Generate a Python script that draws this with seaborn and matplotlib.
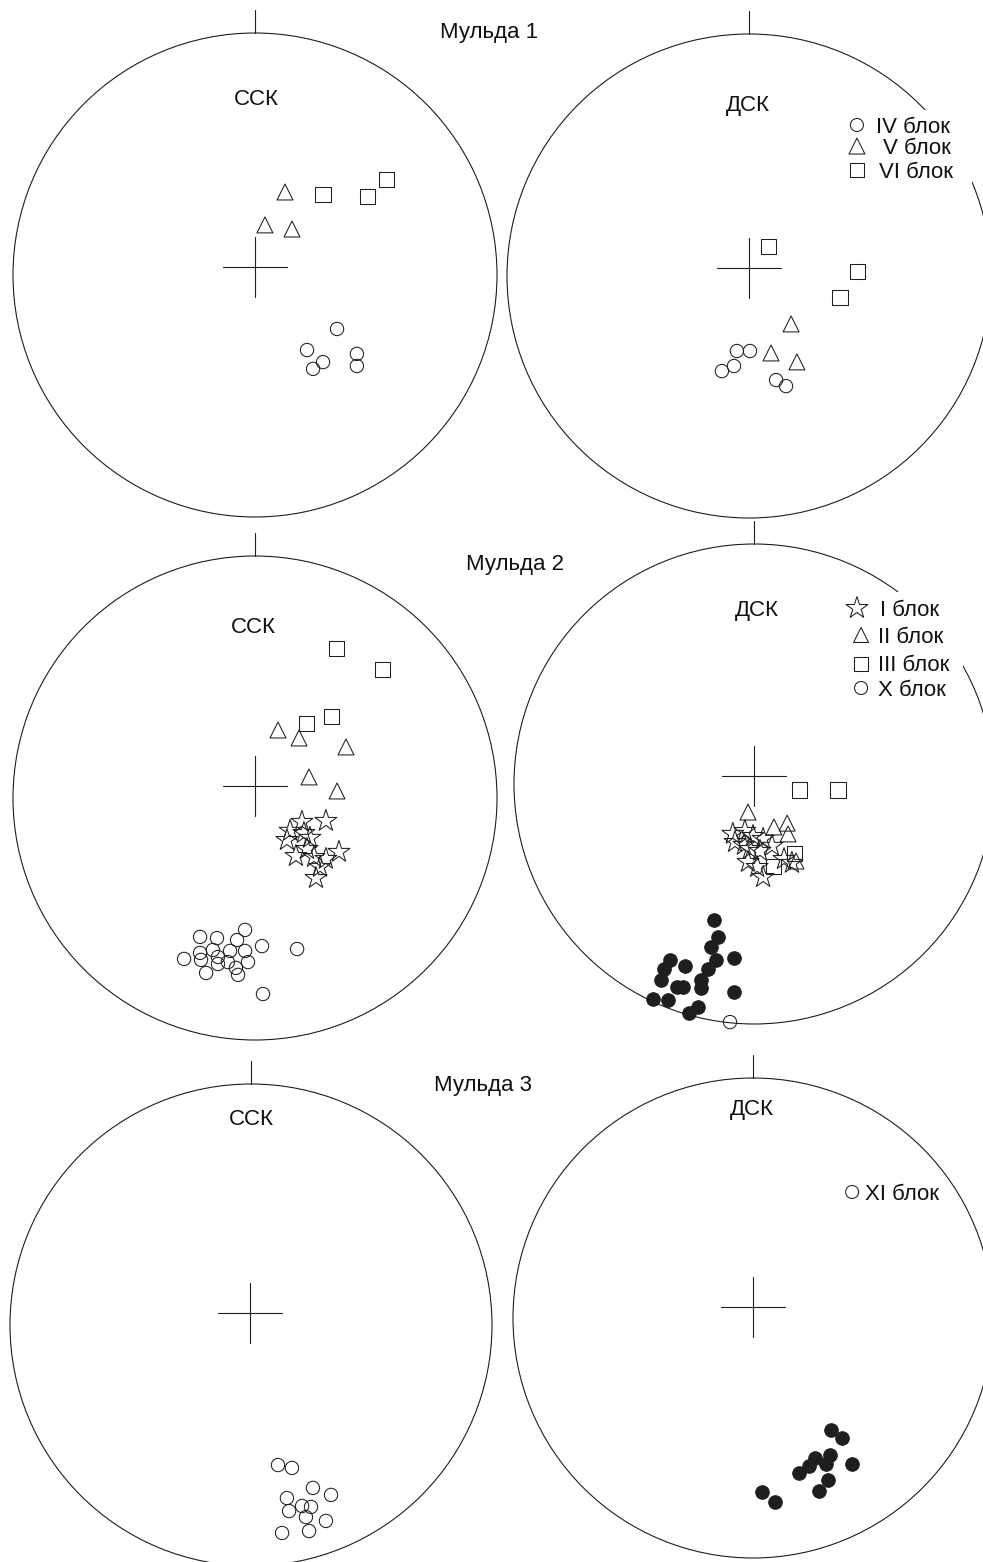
import matplotlib
matplotlib.use("Agg")
import matplotlib.pyplot as plt
from matplotlib.patches import Circle, Rectangle
import pandas as pd
import seaborn as sns

# Pole positions on each net as (east, north), in units of the net radius.
# Мульда 1
m1_ssk_iv = [(0.339, -0.223), (0.215, -0.310), (0.281, -0.360), (0.240, -0.388),
             (0.421, -0.326), (0.421, -0.376)]
m1_ssk_v = [(0.124, 0.343), (0.041, 0.207), (0.153, 0.190)]
m1_ssk_vi = [(0.281, 0.331), (0.463, 0.326), (0.545, 0.393)]
m1_dsk_iv = [(-0.050, -0.310), (0.004, -0.310), (-0.062, -0.372), (-0.112, -0.393),
             (0.112, -0.430), (0.153, -0.455)]
m1_dsk_v = [(0.174, -0.198), (0.091, -0.318), (0.198, -0.355)]
m1_dsk_vi = [(0.079, 0.120), (0.450, 0.017), (0.376, -0.087)]

# Мульда 2
m2_ssk_i = [(0.194, -0.099), (0.293, -0.095), (0.145, -0.136), (0.132, -0.174),
            (0.202, -0.145), (0.227, -0.165), (0.215, -0.211), (0.169, -0.240),
            (0.244, -0.244), (0.347, -0.223), (0.293, -0.252), (0.269, -0.285),
            (0.252, -0.331)]
m2_ssk_ii = [(0.095, 0.281), (0.182, 0.248), (0.376, 0.211), (0.223, 0.087), (0.339, 0.029)]
m2_ssk_iii = [(0.335, 0.616), (0.525, 0.529), (0.211, 0.306), (0.318, 0.335)]
m2_ssk_x = [(-0.227, -0.574), (-0.157, -0.579), (-0.041, -0.545), (-0.074, -0.587),
            (0.029, -0.612), (0.174, -0.624), (-0.293, -0.665), (-0.227, -0.640),
            (-0.223, -0.669), (-0.174, -0.628), (-0.153, -0.657), (-0.103, -0.632),
            (-0.041, -0.632), (-0.029, -0.678), (-0.153, -0.686), (-0.112, -0.678),
            (-0.079, -0.702), (-0.070, -0.731), (-0.202, -0.723), (0.033, -0.810)]
m2_dsk_i = [(-0.088, -0.208), (-0.038, -0.196), (-0.004, -0.217), (-0.079, -0.242),
            (-0.042, -0.254), (-0.017, -0.271), (0.038, -0.229), (0.075, -0.258),
            (0.025, -0.279), (-0.025, -0.325), (0.013, -0.346), (0.038, -0.388),
            (0.125, -0.313), (0.158, -0.329)]
m2_dsk_ii = [(-0.025, -0.117), (0.138, -0.163), (0.083, -0.179), (0.142, -0.208), (0.175, -0.321)]
m2_dsk_iii = [(0.188, -0.025), (0.350, -0.025), (0.167, -0.288), (0.083, -0.342)]
m2_dsk_x = [(-0.167, -0.567), (-0.150, -0.638), (-0.179, -0.679), (-0.083, -0.725),
            (-0.158, -0.733), (-0.192, -0.771), (-0.350, -0.733), (-0.375, -0.771),
            (-0.288, -0.758), (-0.388, -0.817), (-0.321, -0.846), (-0.296, -0.846),
            (-0.221, -0.817), (-0.221, -0.850), (-0.083, -0.867), (-0.421, -0.896),
            (-0.358, -0.900), (-0.233, -0.929), (-0.271, -0.954)]
m2_dsk_x_open = [(-0.100, -0.992)]

# Мульда 3
m3_ssk_xi = [(0.112, -0.581), (0.170, -0.593), (0.257, -0.676), (0.332, -0.705),
             (0.149, -0.718), (0.212, -0.751), (0.249, -0.755), (0.158, -0.772),
             (0.228, -0.797), (0.311, -0.813), (0.129, -0.863), (0.241, -0.855)]
m3_dsk_xi = [(0.325, -0.467), (0.371, -0.500), (0.321, -0.571), (0.258, -0.583),
             (0.233, -0.617), (0.304, -0.608), (0.413, -0.608), (0.192, -0.646),
             (0.313, -0.675), (0.275, -0.721), (0.038, -0.725), (0.092, -0.767)]

titles = ["Мульда 1", "Мульда 2", "Мульда 3"]
net_names = ["ССК", "ДСК"]
legend_m1 = ["IV блок", "V блок", "VI блок"]
legend_m2 = ["I блок", "II блок", "III блок", "X блок"]
legend_m3 = ["XI блок"]

# ---------------------------------------------------------------- styling
INK = "#1e1e1e"
W, H = 983, 1562
LIM = 1.15
FS = 16

MARK = {
    "circle": dict(marker="o", s=92, face="none"),
    "tri": dict(marker="^", s=132, face="none"),
    "square": dict(marker="s", s=117, face="none"),
    "star": dict(marker="*", s=275, face="none"),
    "dot": dict(marker="o", s=95, face=INK),
}

sns.set_style("white")
plt.rcParams["font.family"] = ["Liberation Sans", "DejaVu Sans"]

fig = plt.figure(figsize=(W / 100, H / 100), dpi=100)


def make_net(cx, cy, r, cross, label, label_y):
    ax = fig.add_axes([(cx - LIM * r) / W, 1 - (cy + LIM * r) / H,
                       2 * LIM * r / W, 2 * LIM * r / H])
    ax.set_xlim(-LIM, LIM)
    ax.set_ylim(-LIM, LIM)
    ax.axis("off")
    ax.add_patch(Circle((0, 0), 1, fill=False, lw=0.8, ec=INK, zorder=1, clip_on=False))
    tick = 23 / r
    ax.plot([0, 0], [1, 1 + tick], color=INK, lw=0.8, clip_on=False, zorder=1)
    x0, y0 = cross
    ax.plot([x0 - 0.133, x0 + 0.133], [y0, y0], color=INK, lw=0.8, zorder=1)
    ax.plot([x0, x0], [y0 - 0.124, y0 + 0.124], color=INK, lw=0.8, zorder=1)
    ax.text(label[0], label_y, label[1], ha="center", va="baseline", fontsize=FS,
            color="#111111", zorder=5)
    return ax


def points(ax, pts, kind):
    st = MARK[kind]
    df = pd.DataFrame(pts, columns=["east", "north"])
    sns.scatterplot(data=df, x="east", y="north", ax=ax, marker=st["marker"],
                    s=st["s"], facecolor=st["face"], edgecolor=INK,
                    linewidth=0.75, legend=False, zorder=3, clip_on=False)
    ax.set_xlim(-LIM, LIM)
    ax.set_ylim(-LIM, LIM)
    ax.axis("off")


def key(ax, entries, box=None):
    if box is not None:
        ax.add_patch(Rectangle((box[0], box[1]), box[2], box[3], fc="white",
                               ec="none", zorder=2))
    for (mx, my, kind, size, tx, ty, text) in entries:
        st = MARK[kind]
        ax.scatter([mx], [my], marker=st["marker"], s=size, facecolor=st["face"],
                   edgecolor=INK, linewidth=0.75, zorder=4, clip_on=False)
        ax.text(tx, ty, text, ha="left", va="baseline", fontsize=FS,
                color="#111111", zorder=5)


# ---------------------------------------------------------------- Мульда 1
a = make_net(255, 275, 242, (0.0, 0.033), (0.004, net_names[0]), 0.702)
points(a, m1_ssk_iv, "circle")
points(a, m1_ssk_v, "tri")
points(a, m1_ssk_vi, "square")

b = make_net(749, 276, 242, (0.0, 0.033), (-0.004, net_names[1]), 0.682)
points(b, m1_dsk_iv, "circle")
points(b, m1_dsk_v, "tri")
points(b, m1_dsk_vi, "square")
key(b, [(0.446, 0.624, "circle", 88, 0.525, 0.591, legend_m1[0]),
        (0.446, 0.537, "tri", 132, 0.554, 0.504, legend_m1[1]),
        (0.446, 0.438, "square", 102, 0.537, 0.405, legend_m1[2])],
    box=(0.417, 0.376, 0.504, 0.310))

# ---------------------------------------------------------------- Мульда 2
c = make_net(255, 798, 242, (0.0, 0.05), (-0.008, net_names[0]), 0.682)
points(c, m2_ssk_x, "circle")
points(c, m2_ssk_ii, "tri")
points(c, m2_ssk_iii, "square")
points(c, m2_ssk_i, "star")

d = make_net(754, 784, 240, (0.0, 0.033), (0.0125, net_names[1]), 0.700)
points(d, m2_dsk_x, "dot")
points(d, m2_dsk_x_open, "circle")
points(d, m2_dsk_ii, "tri")
points(d, m2_dsk_iii, "square")
points(d, m2_dsk_i, "star")
key(d, [(0.429, 0.733, "star", 274, 0.525, 0.700, legend_m2[0]),
        (0.446, 0.621, "tri", 117, 0.517, 0.588, legend_m2[1]),
        (0.446, 0.500, "square", 102, 0.517, 0.471, legend_m2[2]),
        (0.446, 0.400, "circle", 88, 0.517, 0.367, legend_m2[3])],
    box=(0.40, 0.35, 0.471, 0.45))

# ---------------------------------------------------------------- Мульда 3
e = make_net(251, 1325, 241, (-0.004, 0.05), (0.0, net_names[0]), 0.830)
points(e, m3_ssk_xi, "circle")

f = make_net(753, 1318, 240, (0.0, 0.046), (-0.004, net_names[1]), 0.846)
points(f, m3_dsk_xi, "dot")
key(f, [(0.413, 0.525, "circle", 88, 0.467, 0.492, legend_m3[0])])

# titles between the two nets of each pair
for (tx, ty), t in zip([(489, 38), (515, 570), (483, 1091)], titles):
    fig.text(tx / W, 1 - ty / H, t, ha="center", va="baseline", fontsize=FS,
             color="#111111")

fig.savefig("out.png", dpi=100, facecolor="white")
